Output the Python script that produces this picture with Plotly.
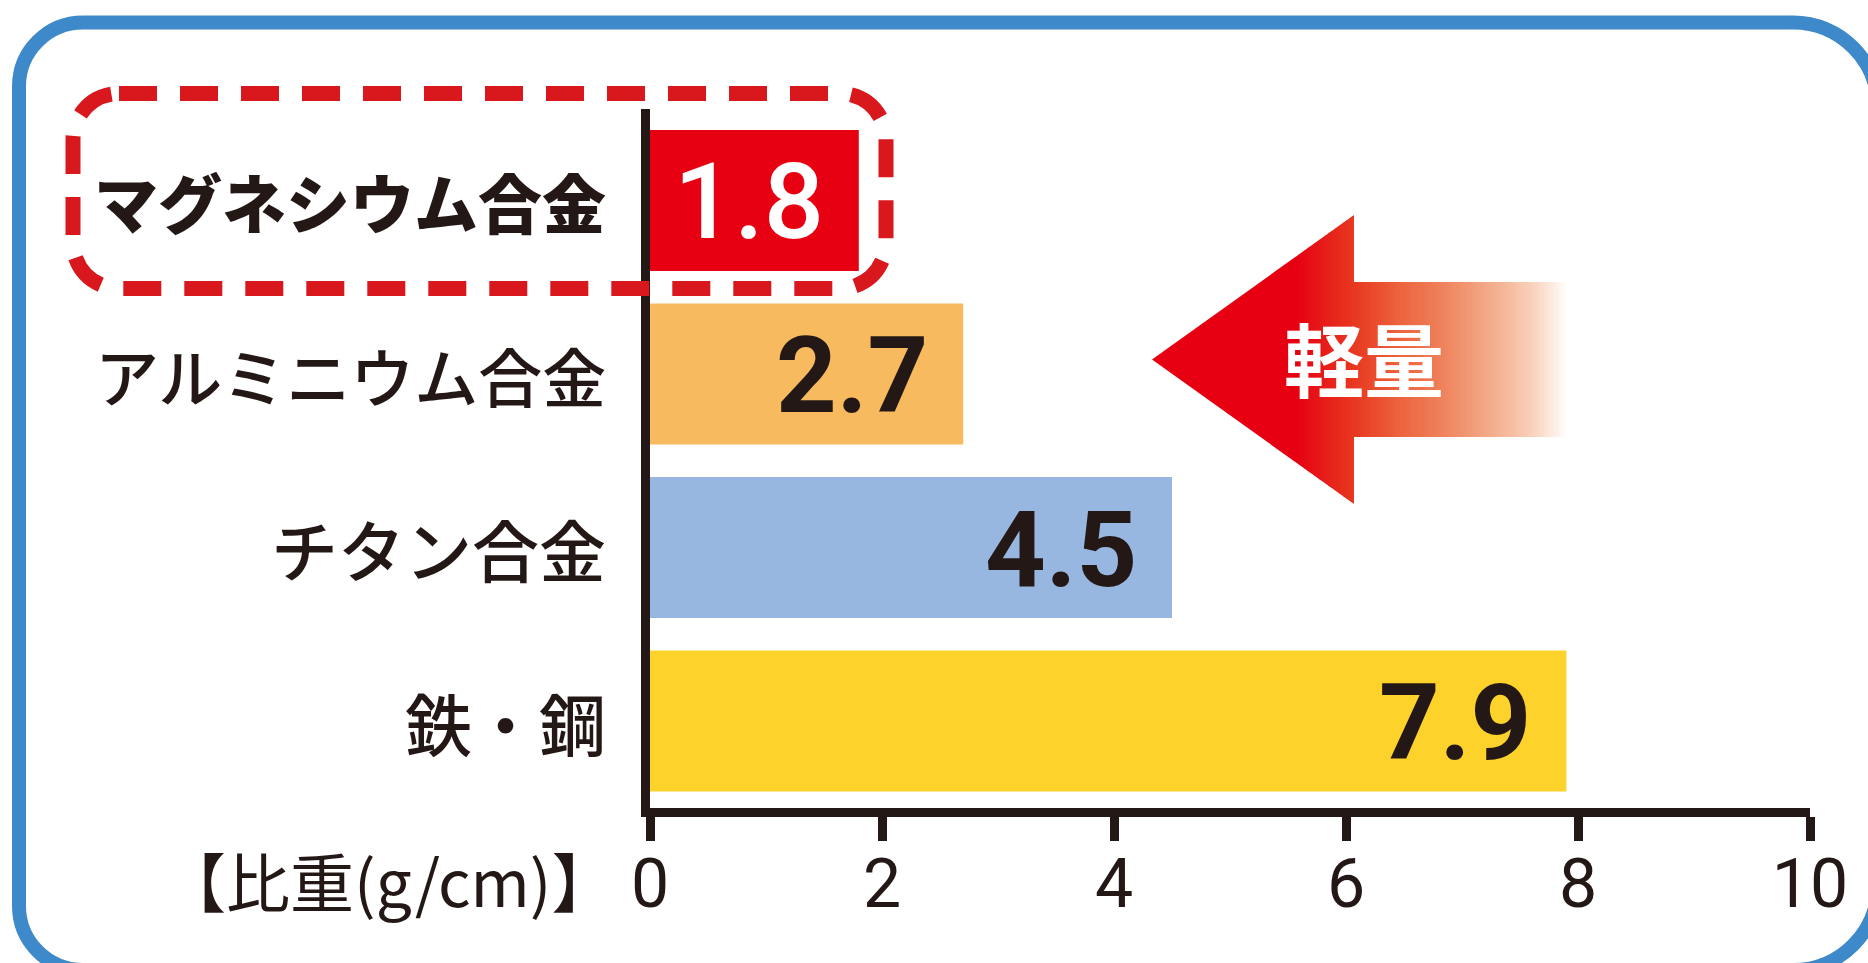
import plotly.graph_objects as go

# ---------------- data ----------------
categories = ["マグネシウム合金", "アルミニウム合金", "チタン合金", "鉄・鋼"]
values = [1.8, 2.7, 4.5, 7.9]
value_labels = ["1.8", "2.7", "4.5", "7.9"]
x_ticks = [0, 2, 4, 6, 8, 10]
x_tick_labels = ["0", "2", "4", "6", "8", "10"]
axis_title = "【比重(g/cm)】"
arrow_label = "軽量"

# ---------------- style ----------------
bar_colors = ["#E60012", "#F7BA5E", "#98B7E0", "#FDD22B"]
label_colors = ["#FFFFFF", "#231815", "#231815", "#231815"]
label_weights = [500, "bold", "bold", "bold"]
cat_weights = [900, 500, 500, 500]
cat_sizes = [64, 64, 67, 67]
DARK = "#231815"
BLUE = "#3D89C9"
DASH_RED = "#D9181D"
JP = "Noto Sans CJK JP"

W, H = 1868, 963
L, R, T, B = 650, 1810, 109, 808  # plot area in pixels


def px2x(px):
    return (px - L) / (R - L)


def py2y(py):
    return (B - py) / (B - T)


def P(x, y):
    return f"{px2x(x):.6f},{py2y(y):.6f}"


def rrect_path(x0, y0, x1, y1, rl, rr=None):
    rr = rl if rr is None else rr
    kl, kr = 0.5523 * rl, 0.5523 * rr
    return (f"M{P(x0 + rl, y0)} L{P(x1 - rr, y0)} "
            f"C{P(x1 - rr + kr, y0)} {P(x1, y0 + rr - kr)} {P(x1, y0 + rr)} "
            f"L{P(x1, y1 - rr)} "
            f"C{P(x1, y1 - rr + kr)} {P(x1 - rr + kr, y1)} {P(x1 - rr, y1)} "
            f"L{P(x0 + rl, y1)} "
            f"C{P(x0 + rl - kl, y1)} {P(x0, y1 - rl + kl)} {P(x0, y1 - rl)} "
            f"L{P(x0, y0 + rl)} "
            f"C{P(x0, y0 + rl - kl)} {P(x0 + rl - kl, y0)} {P(x0 + rl, y0)} Z")


fig = go.Figure()
fig.add_trace(go.Bar(
    x=values, y=categories, orientation="h",
    marker=dict(color=bar_colors, line=dict(width=0)),
    hoverinfo="skip", showlegend=False,
))

shapes = []
# outer blue rounded frame
shapes.append(dict(type="path", xref="paper", yref="paper", layer="below",
                   path=rrect_path(19, 22.5, 1878, 970, 64, 85),
                   line=dict(color=BLUE, width=14), fillcolor="rgba(0,0,0,0)"))
# dashed highlight box
shapes.append(dict(type="path", xref="paper", yref="paper", layer="above",
                   path=rrect_path(73, 93.5, 886, 288.5, 46),
                   line=dict(color=DASH_RED, width=15, dash="38px,23px"),
                   fillcolor="rgba(0,0,0,0)"))

# gradient arrow ("lighter" direction), built from thin strips
TIP_X, HEAD_X, END_X, CY = 1152, 1354, 1567, 359.5
HEAD_HALF, SHAFT_HALF = 144.5, 77.5
stops = [(1152, (230, 0, 18)), (1295, (230, 0, 18)), (1354, (232, 56, 32)),
         (1400, (236, 100, 62)), (1435, (238, 124, 86)), (1470, (241, 154, 118)),
         (1505, (245, 184, 154)), (1535, (249, 212, 192)), (1555, (253, 238, 230)),
         (1567, (255, 255, 255))]


def col_at(x):
    for (xa, ca), (xb, cb) in zip(stops[:-1], stops[1:]):
        if xa <= x <= xb:
            t = (x - xa) / (xb - xa) if xb > xa else 0
            c = [round(ca[i] + (cb[i] - ca[i]) * t) for i in range(3)]
            return f"rgb({c[0]},{c[1]},{c[2]})"
    return "rgb(255,255,255)"


def half_at(x):
    if x <= HEAD_X:
        return (x - TIP_X) / (HEAD_X - TIP_X) * HEAD_HALF
    return SHAFT_HALF


# solid head part
xs = 1295
shapes.append(dict(type="path", xref="paper", yref="paper", layer="above",
                   path=f"M{P(TIP_X, CY)} L{P(xs + 0.6, CY - half_at(xs + 0.6))} "
                        f"L{P(xs + 0.6, CY + half_at(xs + 0.6))} Z",
                   fillcolor=col_at(TIP_X), line=dict(width=0)))
step = 3
x = xs
while x < END_X:
    xa, xb = x, min(x + step, END_X)
    xbb = min(xb + 0.6, END_X)
    if xa < HEAD_X < xbb:
        pts = [(xa, CY - half_at(xa)), (HEAD_X, CY - HEAD_HALF), (HEAD_X, CY - SHAFT_HALF),
               (xbb, CY - SHAFT_HALF), (xbb, CY + SHAFT_HALF), (HEAD_X, CY + SHAFT_HALF),
               (HEAD_X, CY + HEAD_HALF), (xa, CY + half_at(xa))]
    else:
        pts = [(xa, CY - half_at(xa)), (xbb, CY - half_at(xbb)),
               (xbb, CY + half_at(xbb)), (xa, CY + half_at(xa))]
    path = "M" + " L".join(P(a, b) for a, b in pts) + " Z"
    shapes.append(dict(type="path", xref="paper", yref="paper", layer="above",
                       path=path, fillcolor=col_at((xa + xb) / 2), line=dict(width=0)))
    x = xb

annotations = []
# category labels (left of the axis)
for c, wt, sz in zip(categories, cat_weights, cat_sizes):
    annotations.append(dict(x=px2x(608), y=c, xref="paper", yref="y", text=c,
                            showarrow=False, xanchor="right", yanchor="middle",
                            font=dict(family=JP, size=sz, color=DARK, weight=wt)))
# value labels inside bars
for v, c, lab, colr, wt in zip(values, categories, value_labels, label_colors, label_weights):
    annotations.append(dict(x=v, y=c, xref="x", yref="y", text=lab, showarrow=False,
                            xanchor="right", yanchor="middle", xshift=-33, yshift=-2,
                            font=dict(family="Roboto", size=106, color=colr, weight=wt)))
annotations.append(dict(x=px2x(618), y=py2y(879), xref="paper", yref="paper",
                        text=axis_title, showarrow=False, xanchor="right", yanchor="middle",
                        font=dict(family=JP, size=64, color=DARK)))
annotations.append(dict(x=px2x(1364), y=py2y(356), xref="paper", yref="paper",
                        text=arrow_label, showarrow=False, xanchor="center", yanchor="middle",
                        font=dict(family=JP, size=80, color="#FFFFFF", weight="bold")))

fig.update_layout(
    width=W, height=H,
    margin=dict(l=L, r=W - R, t=T, b=H - B, pad=0),
    paper_bgcolor="white", plot_bgcolor="white",
    bargap=0.187,
    showlegend=False,
    shapes=shapes,
    annotations=annotations,
    xaxis=dict(range=[0, 10], tickvals=x_ticks, ticktext=x_tick_labels,
               ticks="outside", ticklen=24, tickwidth=9, tickcolor=DARK,
               showline=True, linewidth=9, linecolor=DARK,
               showgrid=False, zeroline=False, fixedrange=True,
               ticklabelstandoff=-16,
               tickfont=dict(family="Roboto", size=68, color=DARK)),
    yaxis=dict(type="category", categoryorder="array", categoryarray=categories,
               range=[3.501, -0.527], showticklabels=False,
               ticks="", showline=True, linewidth=9, linecolor=DARK,
               showgrid=False, zeroline=False, fixedrange=True),
)

fig.write_html("out.html", config={"displayModeBar": False},
               post_script="document.body.style.margin='0';document.body.style.overflow='hidden';")
